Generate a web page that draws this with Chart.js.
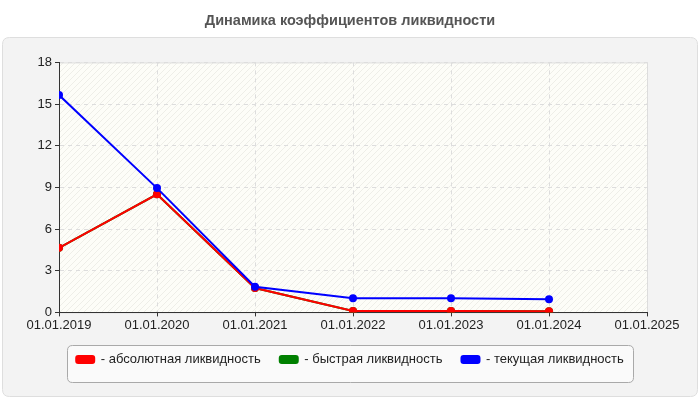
<!DOCTYPE html>
<html>
<head>
<meta charset="utf-8">
<script src="https://cdn.jsdelivr.net/npm/chart.js@4/dist/chart.umd.min.js"></script>
<style>
  html, body { margin: 0; padding: 0; background: #fff; }
  #wrap { width: 700px; height: 400px; }
</style>
</head>
<body>
<div id="wrap"><canvas id="chart" width="700" height="400"></canvas></div>
<script>
// data
const years = ["01.01.2019", "01.01.2020", "01.01.2021", "01.01.2022", "01.01.2023", "01.01.2024", "01.01.2025"];
const absLiq = [4.65, 8.5, 1.75, 0.1, 0.1, 0.08];
const quickLiq = [4.65, 8.5, 1.75, 0.1, 0.1, 0.08];
const curLiq = [15.65, 8.95, 1.85, 1.02, 1.02, 0.95];
const yTicks = [0, 3, 6, 9, 12, 15, 18];

function toPoints(arr) {
    return arr.map((v, i) => ({ x: i, y: v }));
}

// diagonal hatch for plot background
function makeHatch(ctx) {
    let c = document.createElement('canvas');
    c.width = 6; c.height = 6;
    let g = c.getContext('2d');
    g.fillStyle = '#fdfdf8';
    g.fillRect(0, 0, 6, 6);
    g.strokeStyle = '#eeeee8';
    g.lineWidth = 1;
    g.beginPath();
    g.moveTo(0, 6); g.lineTo(6, 0);
    g.moveTo(-3, 3); g.lineTo(3, -3);
    g.moveTo(3, 9); g.lineTo(9, 3);
    g.stroke();
    return ctx.createPattern(c, 'repeat');
}

function roundRect(ctx, x, y, w, h, r) {
    ctx.beginPath();
    ctx.moveTo(x + r, y);
    ctx.lineTo(x + w - r, y);
    ctx.quadraticCurveTo(x + w, y, x + w, y + r);
    ctx.lineTo(x + w, y + h - r);
    ctx.quadraticCurveTo(x + w, y + h, x + w - r, y + h);
    ctx.lineTo(x + r, y + h);
    ctx.quadraticCurveTo(x, y + h, x, y + h - r);
    ctx.lineTo(x, y + r);
    ctx.quadraticCurveTo(x, y, x + r, y);
    ctx.closePath();
}

const backdrop = {
    id: 'backdrop',
    afterLayout(chart) {
        // centre title and legend on the whole canvas
        let w = chart.width;
        [chart.titleBlock, chart.legend].forEach(b => {
            if (!b) return;
            let bw = b.right - b.left;
            let inset = (w - (chart.width - 53 - 53)) / 2;
            b.left = inset;
            b.right = w - inset;
            b.width = b.right - b.left;
        });
    },
    beforeDraw(chart) {
        let ctx = chart.ctx;
        let a = chart.chartArea;
        ctx.save();
        // outer panel
        roundRect(ctx, 2.5, 37.5, 695, 359, 7);
        ctx.fillStyle = '#f3f3f3';
        ctx.fill();
        ctx.strokeStyle = '#dedede';
        ctx.lineWidth = 1;
        ctx.stroke();
        // plot background
        ctx.fillStyle = makeHatch(ctx);
        ctx.fillRect(a.left, a.top, a.right - a.left, a.bottom - a.top);
        ctx.strokeStyle = '#dcdcdc';
        ctx.strokeRect(a.left + 0.5, a.top + 0.5, a.right - a.left, a.bottom - a.top);
        // legend box
        roundRect(ctx, 67.5, 345.5, 566, 37, 5);
        ctx.fillStyle = '#fafafa';
        ctx.fill();
        ctx.strokeStyle = '#a9a9a9';
        ctx.stroke();
        ctx.restore();
    }
};

const ctx = document.getElementById('chart');

const chart = new Chart(ctx, {
    type: 'line',
    data: {
        datasets: [
            {
                label: '- абсолютная ликвидность',
                data: toPoints(absLiq),
                borderColor: '#ff0000',
                backgroundColor: '#ff0000',
                order: 1
            },
            {
                label: '- быстрая ликвидность',
                data: toPoints(quickLiq),
                borderColor: '#008000',
                backgroundColor: '#008000',
                order: 3
            },
            {
                label: '- текущая ликвидность',
                data: toPoints(curLiq),
                borderColor: '#0000ff',
                backgroundColor: '#0000ff',
                order: 0
            }
        ]
    },
    options: {
        responsive: false,
        animation: false,
        devicePixelRatio: 1,
        elements: {
            line: { borderWidth: 2, tension: 0 },
            point: { radius: 4, borderWidth: 0, hoverRadius: 4 }
        },
        layout: { padding: { left: 10, right: 53, top: 0, bottom: 24 } },
        plugins: {
            title: {
                display: true,
                text: 'Динамика коэффициентов ликвидности',
                color: '#555',
                font: { family: 'Liberation Sans', size: 14.5, weight: 'bold' },
                padding: { top: 12, bottom: 33 }
            },
            legend: {
                position: 'bottom',
                labels: {
                    color: '#222',
                    font: { family: 'Liberation Sans', size: 13 },
                    boxWidth: 18,
                    boxHeight: 7,
                    useBorderRadius: true,
                    borderRadius: 2,
                    padding: 19,
                    sort: (a, b) => a.datasetIndex - b.datasetIndex
                }
            },
            tooltip: { enabled: false }
        },
        scales: {
            x: {
                type: 'linear',
                min: 0,
                max: years.length - 1,
                afterBuildTicks(axis) {
                    axis.ticks = years.map((_, i) => ({ value: i }));
                },
                ticks: {
                    callback: (v) => years[v],
                    color: '#222',
                    font: { family: 'Liberation Sans', size: 13 },
                    maxRotation: 0,
                    autoSkip: false,
                    padding: 1
                },
                grid: {
                    color: '#dddddd',
                    tickColor: '#333',
                    tickLength: 4
                },
                border: { color: '#333', width: 1, dash: [4, 4] }
            },
            y: {
                min: 0,
                max: 18,
                afterBuildTicks(axis) {
                    axis.ticks = yTicks.map(v => ({ value: v }));
                },
                afterFit(axis) { axis.width = 49; },
                ticks: {
                    color: '#222',
                    font: { family: 'Liberation Sans', size: 13 },
                    padding: 3
                },
                grid: {
                    color: '#dddddd',
                    tickColor: '#333',
                    tickLength: 4
                },
                border: { color: '#333', width: 1, dash: [4, 4] }
            }
        }
    },
    plugins: [backdrop]
});
</script>
</body>
</html>
